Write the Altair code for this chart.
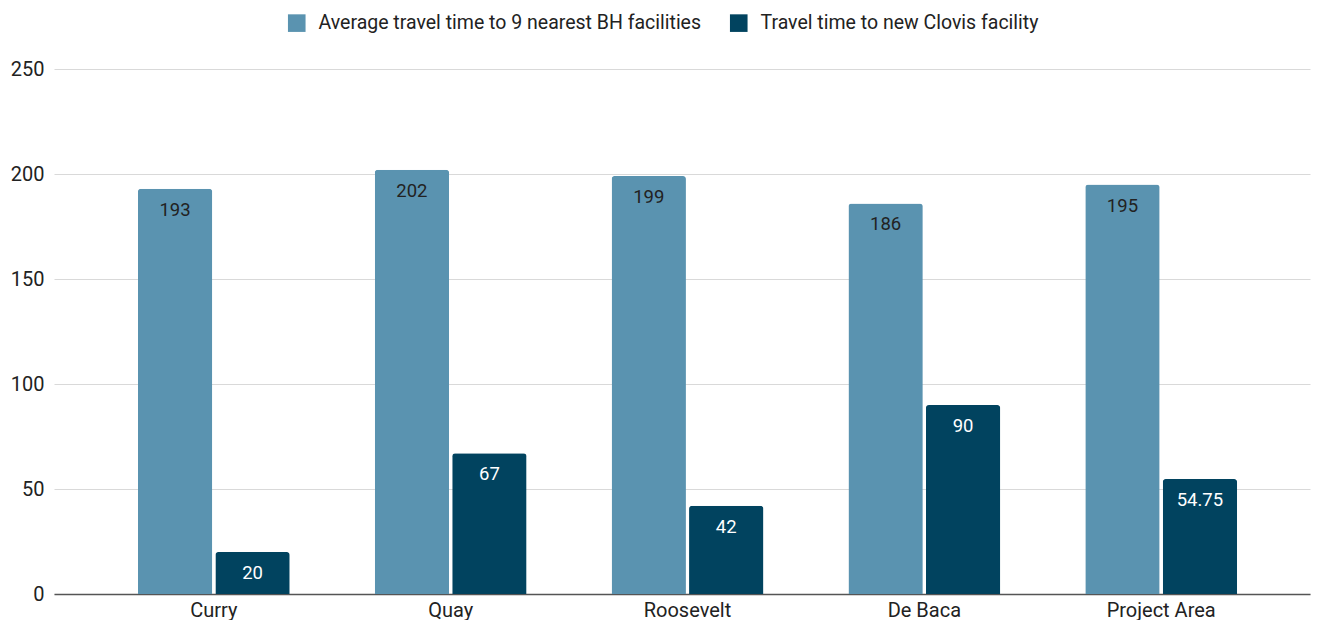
import altair as alt
import pandas as pd

categories = ["Curry", "Quay", "Roosevelt", "De Baca", "Project Area"]
series_names = ["Average travel time to 9 nearest BH facilities", "Travel time to new Clovis facility"]
avg_nearest = [193, 202, 199, 186, 195]
new_clovis = [20, 67, 42, 90, 54.75]
colors = ["#5a93b0", "#01435f"]
label_colors = ["#222222", "#ffffff"]

rows = []
for c, a, n in zip(categories, avg_nearest, new_clovis):
    rows.append({"cat": c, "series": series_names[0], "value": a, "label": f"{a:g}"})
    rows.append({"cat": c, "series": series_names[1], "value": n, "label": f"{n:g}"})
df = pd.DataFrame(rows)

x = alt.X("cat:N", sort=categories, title=None,
          scale=alt.Scale(paddingInner=0.359, paddingOuter=0.331, align=0.535),
          axis=alt.Axis(labelAngle=0, labelFontSize=20, labelColor="#222222", labelPadding=6,
                        ticks=False, domain=True, domainColor="#555555", domainWidth=1.5,
                        labelFont="Roboto"))
xo = alt.XOffset("series:N", sort=series_names,
                 scale=alt.Scale(domain=series_names, paddingInner=0.04))
y = alt.Y("value:Q", title=None,
          scale=alt.Scale(domain=[0, 250], nice=False),
          axis=alt.Axis(values=[0, 50, 100, 150, 200, 250], labelFontSize=20, labelColor="#222222",
                        labelPadding=10, ticks=False, domain=False, gridColor="#d9d9d9",
                        gridWidth=1.2, labelFont="Roboto"))

bars = alt.Chart(df).mark_bar(cornerRadiusTopLeft=3, cornerRadiusTopRight=3).encode(
    x=x, xOffset=xo, y=y,
    color=alt.Color("series:N", sort=series_names,
                    scale=alt.Scale(domain=series_names, range=colors),
                    legend=alt.Legend(title=None, orient="none", legendX=233, legendY=-56,
                                      direction="horizontal",
                                      symbolType="square", symbolSize=310, symbolStrokeWidth=0,
                                      labelFontSize=19.5, labelColor="#222222", labelFont="Roboto",
                                      columnPadding=27, symbolOffset=0, labelOffset=12,
                                      labelLimit=600))
)

texts = []
for s, col in zip(series_names, label_colors):
    t = alt.Chart(df).transform_filter(alt.datum.series == s).mark_text(
        baseline="top", dy=12, fontSize=18.5, color=col, font="Roboto"
    ).encode(x=x, xOffset=xo, y=y, text="label:N")
    texts.append(t)

chart = alt.layer(bars, *texts).properties(
    width=1306, height=612,
    autosize=alt.AutoSizeParams(type="fit", contains="padding"),
    padding={"left": 2, "right": 4, "top": 51, "bottom": 0},
).configure(font="Roboto").configure_view(strokeWidth=0, stroke="transparent")

chart.save("out.html", embed_options={"renderer": "svg", "actions": False})
